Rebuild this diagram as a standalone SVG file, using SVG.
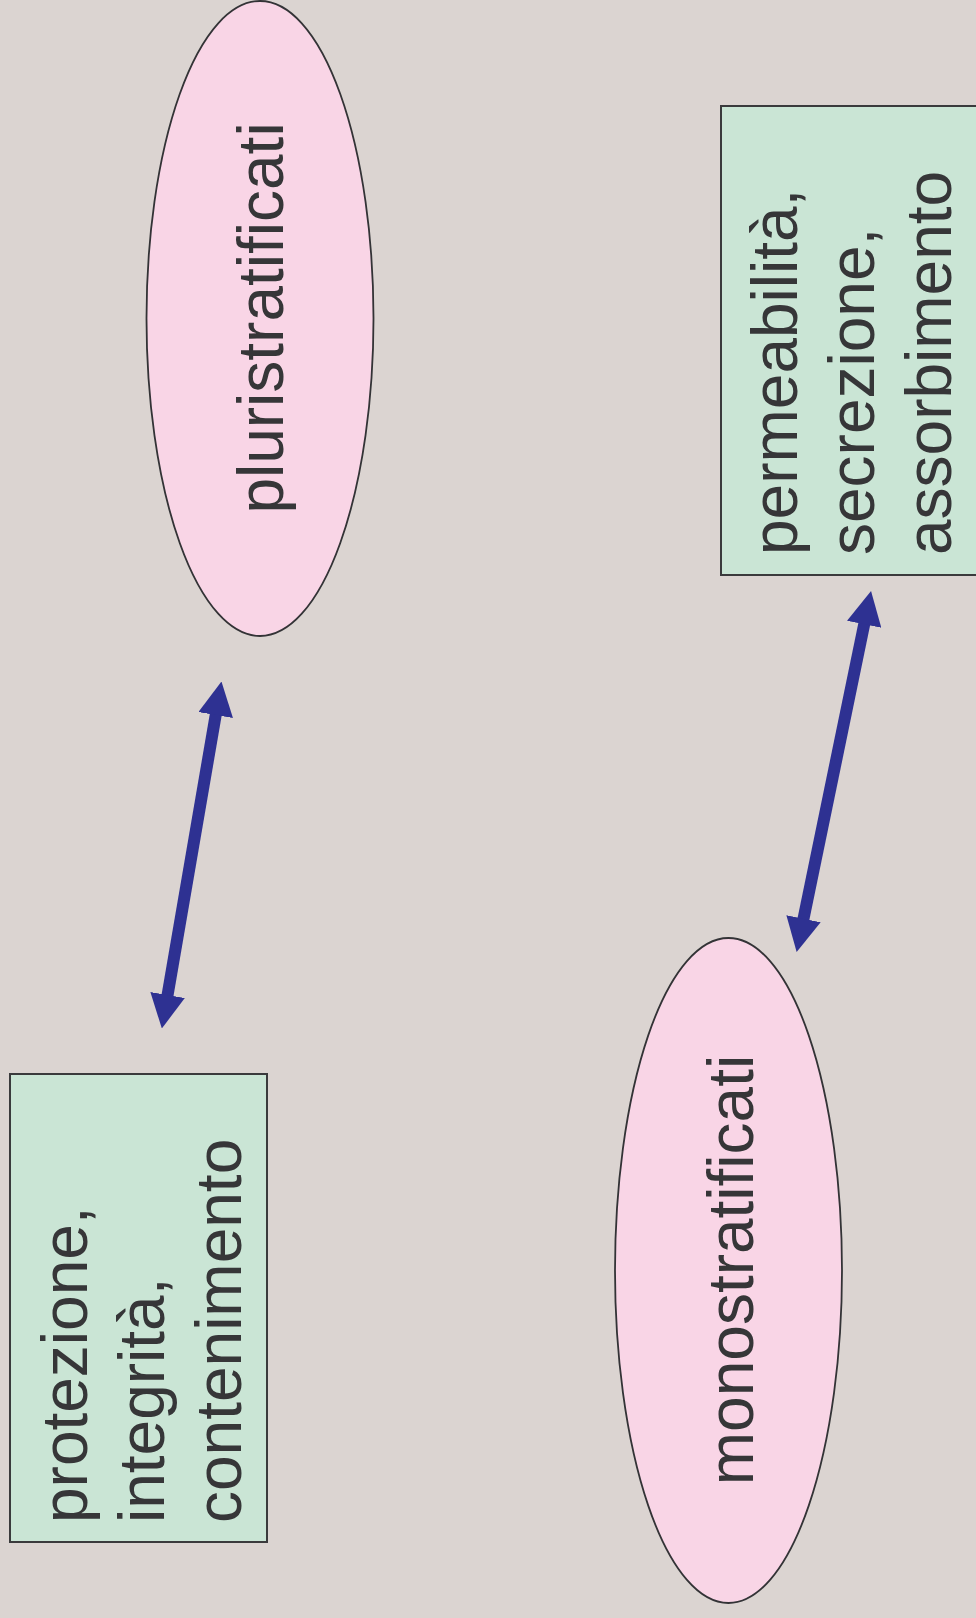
<svg xmlns="http://www.w3.org/2000/svg" width="976" height="1618" viewBox="0 0 976 1618">
  <defs>
    <style>
      .ell { fill: #f9d5e6; stroke: #333336; stroke-width: 1.8; }
      .box { fill: #cae5d5; stroke: #3a3a3c; stroke-width: 2; }
      .lbl { font-family: "Liberation Sans", Arial, sans-serif; font-size: 64px; fill: #363638; }
      .conn { stroke: #2e3192; stroke-width: 12; fill: none; marker-start: url(#ah); marker-end: url(#ah); }
    </style>
    <marker id="ah" markerUnits="userSpaceOnUse" viewBox="0 0 34 35" markerWidth="34" markerHeight="35" refX="13" refY="17.5" orient="auto-start-reverse">
      <path d="M0,0 L34,17.5 L0,35 Z" fill="#2e3192"/>
    </marker>
  </defs>
  <rect x="0" y="0" width="976" height="1618" fill="#dbd4d1"/>

  <g id="node-pluristratificati">
    <ellipse class="ell" cx="260" cy="318.5" rx="113.5" ry="317.5"/>
    <text class="lbl" text-anchor="middle" transform="translate(283,318) rotate(-90)">pluristratificati</text>
  </g>

  <g id="node-permeabilita">
    <rect class="box" x="721" y="106" width="270" height="469"/>
    <text class="lbl" transform="translate(797,555) rotate(-90)">permeabilità,</text>
    <text class="lbl" transform="translate(874,555) rotate(-90)">secrezione,</text>
    <text class="lbl" transform="translate(951,555) rotate(-90)">assorbimento</text>
  </g>

  <g id="node-protezione">
    <rect class="box" x="10" y="1074" width="257" height="468"/>
    <text class="lbl" transform="translate(87,1523) rotate(-90)">protezione,</text>
    <text class="lbl" transform="translate(164,1523) rotate(-90)">integrità,</text>
    <text class="lbl" transform="translate(241,1523) rotate(-90)">contenimento</text>
  </g>

  <g id="node-monostratificati">
    <ellipse class="ell" cx="728.5" cy="1270.5" rx="113.5" ry="332.5"/>
    <text class="lbl" text-anchor="middle" transform="translate(753,1270) rotate(-90)">monostratificati</text>
  </g>

  <g id="connectors">
    <line class="conn" x1="217.9" y1="702.2" x2="165.4" y2="1007.8"/>
    <line class="conn" x1="866.8" y1="611.6" x2="800.9" y2="931.4"/>
  </g>
</svg>
